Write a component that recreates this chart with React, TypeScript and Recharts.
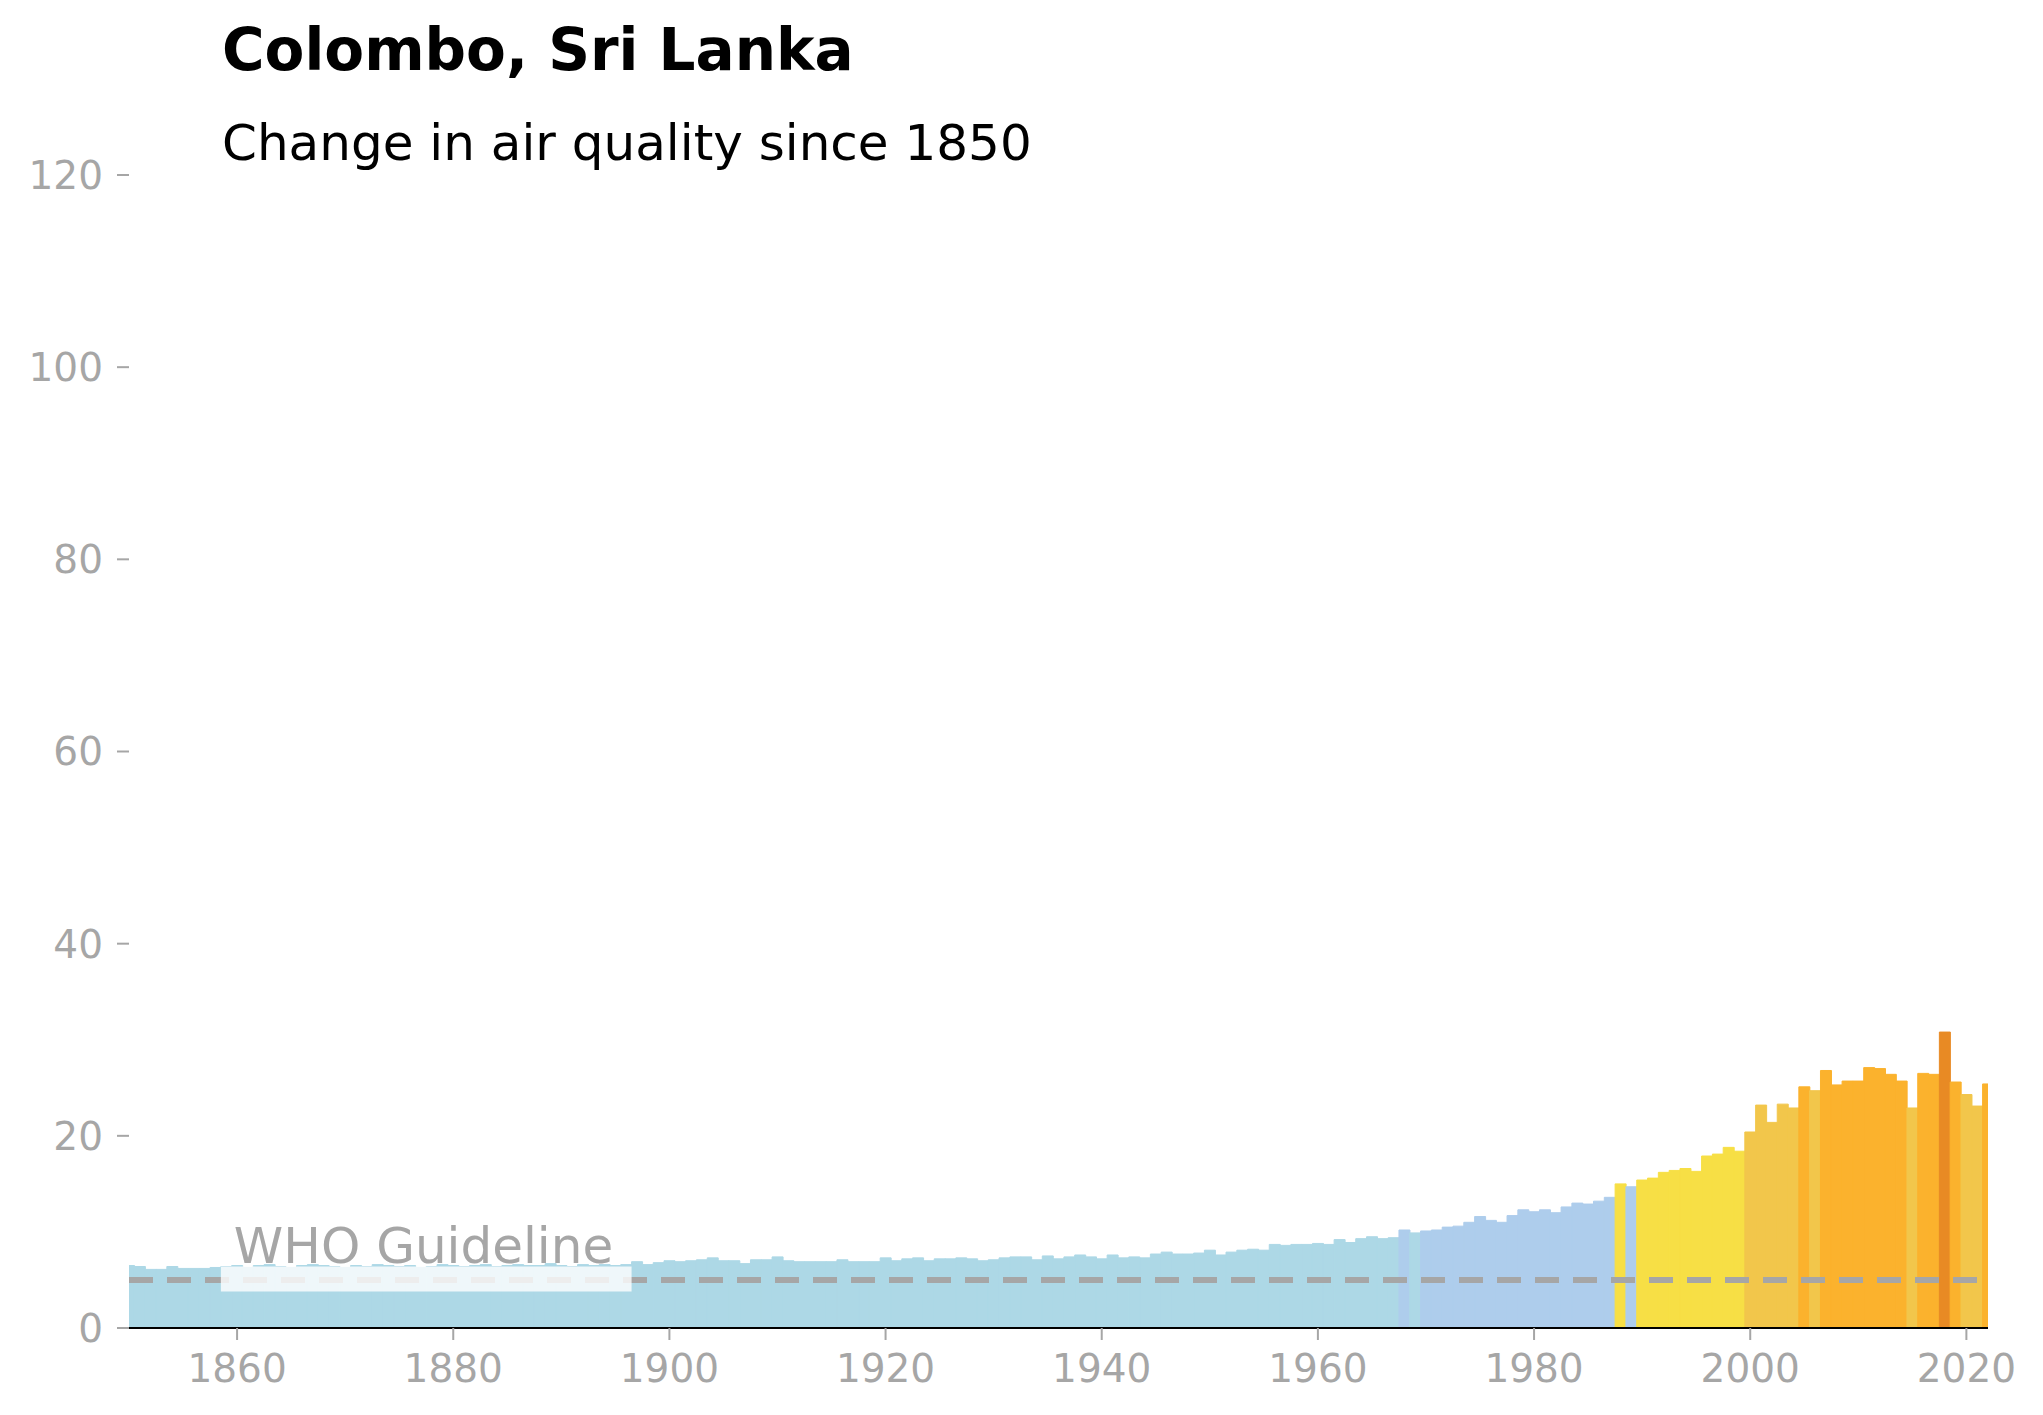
import { BarChart, Bar, XAxis, YAxis, Cell, ReferenceLine, ReferenceArea } from 'recharts'

const startYear = 1850
const values = [
  6.5, 6.4, 6.1, 6.1, 6.4, 6.2, 6.2, 6.2, 6.3,
  6.4, 6.5, 6.3, 6.5, 6.6, 6.4, 6.3, 6.5, 6.6, 6.5, 6.4, 6.3, 6.5, 6.4, 6.6,
  6.5, 6.4, 6.5, 6.3, 6.4, 6.6, 6.5, 6.4, 6.5, 6.6, 6.4, 6.5, 6.6, 6.5, 6.5,
  6.7, 6.5, 6.4, 6.6, 6.5, 6.6, 6.5, 6.6,
  6.9, 6.6, 6.8, 7.0, 6.9, 7.0, 7.1, 7.3, 7.0, 7.0, 6.7, 7.1, 7.1,
  7.4, 7.0, 6.9, 6.9, 6.9, 6.9, 7.1, 6.9, 6.9, 6.9, 7.3, 7.0, 7.2, 7.3, 7.0,
  7.2, 7.2, 7.3, 7.2, 7.0, 7.1,
  7.3, 7.4, 7.4, 7.1, 7.5, 7.2, 7.4, 7.6, 7.4, 7.2, 7.6, 7.3, 7.4, 7.3, 7.7,
  7.9, 7.7, 7.7, 7.8, 8.1, 7.6, 7.9, 8.1, 8.2, 8.1, 8.7, 8.6, 8.7, 8.7, 8.8,
  8.7, 9.2, 8.9, 9.3, 9.5, 9.3, 9.4, 10.2, 9.9,
  10.1, 10.2, 10.5, 10.6, 11.0, 11.6, 11.2, 11.0, 11.7, 12.3, 12.1, 12.3, 12.0,
  12.6, 13.0, 12.9, 13.2, 13.6, 15.0, 14.7,
  15.4, 15.6, 16.2, 16.4, 16.6, 16.3, 17.9, 18.1, 18.8, 18.4,
  20.4, 23.2, 21.4, 23.3, 22.9, 25.1, 24.7, 26.8, 25.3, 25.7, 25.7, 27.1, 27.0,
  26.4, 25.7, 22.9, 26.5, 26.4, 30.8, 25.6, 24.3, 23.1, 25.4,
]
const data = values.map((v, i) => ({ year: startYear + i, pm: v }))
const xTicks = [1860, 1880, 1900, 1920, 1940, 1960, 1980, 2000, 2020]
const yTicks = [0, 20, 40, 60, 80, 100, 120]
const whoGuideline = 5

function colorFor(v: number) {
  if (v < 10) return '#add8e6'
  if (v < 15) return '#aecdec'
  if (v < 20) return '#f7df45'
  if (v < 25) return '#f2c64b'
  if (v < 30) return '#fbb22d'
  return '#e88a24'
}

const grey = '#a6a6a6'
const font = 'DejaVu Sans'

export default function App() {
  return (
    <div style={{ position: 'absolute', left: 0, top: 0, width: 2043, height: 1415, background: '#fff', fontFamily: font }}>
      <BarChart width={2043} height={1415} data={data} barCategoryGap={0}
        margin={{ top: 175, right: 55, left: 0, bottom: 0 }}>
        <XAxis dataKey="year" type="number" domain={[1850, 2022]} allowDataOverflow ticks={xTicks}
          height={87} stroke="#000" strokeWidth={2} tickSize={12}
          tickLine={{ stroke: grey, strokeWidth: 2 }} tick={{ fill: grey, fontSize: 39, fontFamily: font, dy: 12 }} />
        <YAxis domain={[0, 120]} ticks={yTicks} width={129} axisLine={false} tickSize={12}
          tickLine={{ stroke: grey, strokeWidth: 2 }} tick={{ fill: grey, fontSize: 39, fontFamily: font, dx: -12 }} />
        <Bar dataKey="pm" isAnimationActive={false}>
          {data.map((d) => <Cell key={d.year} fill={colorFor(d.pm)} stroke={colorFor(d.pm)} strokeWidth={1} />)}
        </Bar>
        <ReferenceLine y={whoGuideline} stroke={grey} strokeWidth={6} strokeDasharray="24 14" />
        <ReferenceArea x1={1858.5} x2={1896.5} y1={3.8} y2={6.4} fill="#ffffff" fillOpacity={0.8} stroke="none"
          zIndex={1000}
          label={{ value: 'WHO Guideline', position: 'insideTopLeft', fill: grey, fontSize: 50, fontFamily: font, dx: 8, dy: -44 }} />
      </BarChart>
      <div style={{ position: 'absolute', left: 222, top: 16, fontSize: 58, fontWeight: 'bold' }}>Colombo, Sri Lanka</div>
      <div style={{ position: 'absolute', left: 222, top: 114, fontSize: 50 }}>Change in air quality since 1850</div>
    </div>
  )
}
